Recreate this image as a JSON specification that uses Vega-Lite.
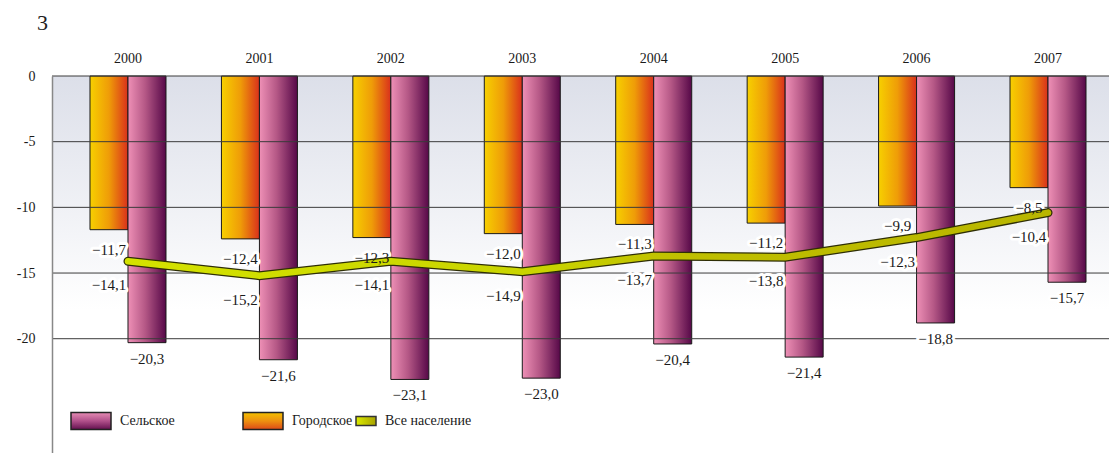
{
  "$schema": "https://vega.github.io/schema/vega-lite/v6.json",
  "width": 1057,
  "height": 377,
  "autosize": {"type": "none"},
  "padding": {"left": 52, "top": 76, "right": 0, "bottom": 0},
  "background": "white",
  "title": {"text": "3", "anchor": "start", "frame": "group", "dx": -15, "offset": 16, "font": "Liberation Serif, serif", "fontSize": 22, "fontWeight": "normal", "color": "#222"},
  "config": {
    "font": "Liberation Serif, serif",
    "view": {"stroke": null},
    "locale": {"number": {"decimal": ",", "thousands": " ", "grouping": [3], "currency": ["", ""], "minus": "−"}},
    "axis": {"labelFontSize": 14, "labelColor": "#1a1a1a"},
    "legend": {"labelFontSize": 14, "labelColor": "#1a1a1a", "symbolOpacity": 1, "padding": 0, "labelOffset": 8}
  },
  "resolve": {"scale": {"shape": "independent"}, "legend": {"shape": "independent"}},
  "data": {"values": [
    {"year": "2000", "type": "Городское", "value": -11.7},
    {"year": "2000", "type": "Сельское", "value": -20.3},
    {"year": "2000", "type": "Все население", "value": -14.1},
    {"year": "2001", "type": "Городское", "value": -12.4},
    {"year": "2001", "type": "Сельское", "value": -21.6},
    {"year": "2001", "type": "Все население", "value": -15.2},
    {"year": "2002", "type": "Городское", "value": -12.3},
    {"year": "2002", "type": "Сельское", "value": -23.1},
    {"year": "2002", "type": "Все население", "value": -14.1},
    {"year": "2003", "type": "Городское", "value": -12.0},
    {"year": "2003", "type": "Сельское", "value": -23.0},
    {"year": "2003", "type": "Все население", "value": -14.9},
    {"year": "2004", "type": "Городское", "value": -11.3},
    {"year": "2004", "type": "Сельское", "value": -20.4},
    {"year": "2004", "type": "Все население", "value": -13.7},
    {"year": "2005", "type": "Городское", "value": -11.2},
    {"year": "2005", "type": "Сельское", "value": -21.4},
    {"year": "2005", "type": "Все население", "value": -13.8},
    {"year": "2006", "type": "Городское", "value": -9.9},
    {"year": "2006", "type": "Сельское", "value": -18.8},
    {"year": "2006", "type": "Все население", "value": -12.3},
    {"year": "2007", "type": "Городское", "value": -8.5},
    {"year": "2007", "type": "Сельское", "value": -15.7},
    {"year": "2007", "type": "Все население", "value": -10.4}
  ]},
  "layer": [
    {
      "data": {"values": [{"bg": 1}]},
      "mark": {"type": "rect", "fill": {"gradient": "linear", "x1": 0, "y1": 0, "x2": 0, "y2": 1, "stops": [{"offset": 0, "color": "#dcdfe9"}, {"offset": 0.62, "color": "#ffffff"}, {"offset": 1, "color": "#ffffff"}]}},
      "encoding": {
        "y": {"datum": 0, "type": "quantitative", "title": null,
              "scale": {"domain": [-28.7, 0], "nice": false, "zero": false},
              "axis": {"values": [0, -5, -10, -15, -20], "grid": false, "ticks": false, "labelPadding": 17, "domainColor": "#888", "domainWidth": 1.5, "zindex": 1, "labelExpr": "replace(datum.label, '−', '-')"}},
        "y2": {"datum": -28.7}
      }
    },
    {
      "transform": [{"filter": "datum.type == 'Городское'"}],
      "mark": {"type": "bar", "stroke": "#1a1a1a", "strokeWidth": 1,
               "fill": {"gradient": "linear", "x1": 0, "y1": 0, "x2": 1, "y2": 0, "stops": [{"offset": 0, "color": "#f7d000"}, {"offset": 0.5, "color": "#ef9c08"}, {"offset": 1, "color": "#d9301c"}]}},
      "encoding": {
        "x": {"field": "year", "type": "ordinal", "title": null,
              "scale": {"paddingInner": 0.4217, "paddingOuter": 0.232, "align": 0.623},
              "axis": {"orient": "top", "ticks": false, "domain": false, "labelPadding": 11, "labelAngle": 0, "labelFontSize": 14}},
        "xOffset": {"field": "type", "type": "nominal", "scale": {"domain": ["Городское", "Сельское"]}},
        "y": {"field": "value", "type": "quantitative", "title": null}
      }
    },
    {
      "transform": [{"filter": "datum.type == 'Сельское'"}],
      "mark": {"type": "bar", "stroke": "#1a1a1a", "strokeWidth": 1,
               "fill": {"gradient": "linear", "x1": 0, "y1": 0, "x2": 1, "y2": 0, "stops": [{"offset": 0, "color": "#ee90b6"}, {"offset": 0.45, "color": "#b55886"}, {"offset": 1, "color": "#560848"}]}},
      "encoding": {
        "x": {"field": "year", "type": "ordinal", "title": null},
        "xOffset": {"field": "type", "type": "nominal"},
        "y": {"field": "value", "type": "quantitative", "title": null}
      }
    },
    {
      "transform": [{"filter": "datum.type == 'Сельское'"}],
      "mark": {"type": "point", "filled": true, "opacity": 0, "stroke": "#222", "strokeWidth": 1,
               "fill": {"gradient": "linear", "x1": 0, "y1": 0, "x2": 0, "y2": 1, "stops": [{"offset": 0, "color": "#e68cb4"}, {"offset": 0.5, "color": "#b0508a"}, {"offset": 1, "color": "#64104f"}]}},
      "encoding": {
        "x": {"field": "year", "type": "ordinal", "title": null},
        "y": {"field": "value", "type": "quantitative", "title": null},
        "shape": {"field": "type", "type": "nominal", "scale": {"range": ["M-1,-0.42H1V0.42H-1Z"]},
                  "legend": {"title": null, "orient": "none", "legendX": 18, "legendY": 324, "symbolSize": 1600, "symbolOpacity": 1}}
      }
    },
    {
      "transform": [{"filter": "datum.type == 'Городское'"}],
      "mark": {"type": "point", "filled": true, "opacity": 0, "stroke": "#222", "strokeWidth": 1,
               "fill": {"gradient": "linear", "x1": 0, "y1": 0, "x2": 0, "y2": 1, "stops": [{"offset": 0, "color": "#f4c000"}, {"offset": 0.5, "color": "#ee9010"}, {"offset": 1, "color": "#de4a18"}]}},
      "encoding": {
        "x": {"field": "year", "type": "ordinal", "title": null},
        "y": {"field": "value", "type": "quantitative", "title": null},
        "shape": {"field": "type", "type": "nominal", "scale": {"range": ["M-1,-0.42H1V0.42H-1Z"]},
                  "legend": {"title": null, "orient": "none", "legendX": 190, "legendY": 324, "symbolSize": 1600, "symbolOpacity": 1}}
      }
    },
    {
      "transform": [{"filter": "datum.type == 'Все население'"}],
      "mark": {"type": "point", "filled": true, "opacity": 0, "stroke": "#333", "strokeWidth": 1,
               "fill": {"gradient": "linear", "x1": 0, "y1": 0, "x2": 1, "y2": 0, "stops": [{"offset": 0, "color": "#dcec00"}, {"offset": 1, "color": "#a8a200"}]}},
      "encoding": {
        "x": {"field": "year", "type": "ordinal", "title": null},
        "y": {"field": "value", "type": "quantitative", "title": null},
        "shape": {"field": "type", "type": "nominal", "scale": {"range": ["M-1,-0.45H1V0.45H-1Z"]},
                  "legend": {"title": null, "orient": "none", "legendX": 303, "legendY": 334, "symbolSize": 400, "symbolOpacity": 1}}
      }
    },
    {
      "data": {"values": [{"g": 0}, {"g": -5}, {"g": -10}, {"g": -15}, {"g": -20}]},
      "mark": {"type": "rule", "stroke": "#3a3a3a", "strokeWidth": 1},
      "encoding": {"y": {"field": "g", "type": "quantitative", "title": null}}
    },
    {
      "transform": [{"filter": "datum.type == 'Городское'"}],
      "mark": {"type": "text", "dx": -19, "dy": 20, "baseline": "middle", "fontSize": 15, "stroke": "white", "strokeWidth": 6, "strokeJoin": "round", "fill": "white"},
      "encoding": {
        "x": {"field": "year", "type": "ordinal", "title": null},
        "y": {"field": "value", "type": "quantitative", "title": null},
        "text": {"field": "value", "type": "quantitative", "format": ".1f"}
      }
    },
    {
      "transform": [{"filter": "datum.type == 'Сельское'"}],
      "mark": {"type": "text", "dx": 19, "dy": 16, "baseline": "middle", "fontSize": 15, "stroke": "white", "strokeWidth": 6, "strokeJoin": "round", "fill": "white"},
      "encoding": {
        "x": {"field": "year", "type": "ordinal", "title": null},
        "y": {"field": "value", "type": "quantitative", "title": null},
        "text": {"field": "value", "type": "quantitative", "format": ".1f"}
      }
    },
    {
      "transform": [{"filter": "datum.type == 'Все население'"}],
      "mark": {"type": "text", "dx": -19, "dy": 24, "baseline": "middle", "fontSize": 15, "stroke": "white", "strokeWidth": 6, "strokeJoin": "round", "fill": "white"},
      "encoding": {
        "x": {"field": "year", "type": "ordinal", "title": null},
        "y": {"field": "value", "type": "quantitative", "title": null},
        "text": {"field": "value", "type": "quantitative", "format": ".1f"}
      }
    },
    {
      "transform": [{"filter": "datum.type == 'Все население'"}],
      "mark": {"type": "line", "stroke": "#2e2e05", "strokeWidth": 9, "strokeCap": "round", "strokeJoin": "miter"},
      "encoding": {
        "x": {"field": "year", "type": "ordinal", "title": null},
        "y": {"field": "value", "type": "quantitative", "title": null}
      }
    },
    {
      "transform": [{"filter": "datum.type == 'Все население'"}],
      "mark": {"type": "line", "strokeWidth": 6.5, "strokeCap": "round", "strokeJoin": "miter",
               "stroke": {"gradient": "linear", "x1": 0, "y1": 0, "x2": 1, "y2": 0, "stops": [{"offset": 0, "color": "#d4e200"}, {"offset": 0.45, "color": "#c9d400"}, {"offset": 0.6, "color": "#bfbf00"}, {"offset": 1, "color": "#b9b600"}]}},
      "encoding": {
        "x": {"field": "year", "type": "ordinal", "title": null},
        "y": {"field": "value", "type": "quantitative", "title": null}
      }
    },
    {
      "transform": [{"filter": "datum.type == 'Городское'"}],
      "mark": {"type": "text", "dx": -19, "dy": 20, "baseline": "middle", "fontSize": 15, "fill": "#1a1a1a"},
      "encoding": {
        "x": {"field": "year", "type": "ordinal", "title": null},
        "y": {"field": "value", "type": "quantitative", "title": null},
        "text": {"field": "value", "type": "quantitative", "format": ".1f"}
      }
    },
    {
      "transform": [{"filter": "datum.type == 'Сельское'"}],
      "mark": {"type": "text", "dx": 19, "dy": 16, "baseline": "middle", "fontSize": 15, "fill": "#1a1a1a"},
      "encoding": {
        "x": {"field": "year", "type": "ordinal", "title": null},
        "y": {"field": "value", "type": "quantitative", "title": null},
        "text": {"field": "value", "type": "quantitative", "format": ".1f"}
      }
    },
    {
      "transform": [{"filter": "datum.type == 'Все население'"}],
      "mark": {"type": "text", "dx": -19, "dy": 24, "baseline": "middle", "fontSize": 15, "fill": "#1a1a1a"},
      "encoding": {
        "x": {"field": "year", "type": "ordinal", "title": null},
        "y": {"field": "value", "type": "quantitative", "title": null},
        "text": {"field": "value", "type": "quantitative", "format": ".1f"}
      }
    }
  ]
}
